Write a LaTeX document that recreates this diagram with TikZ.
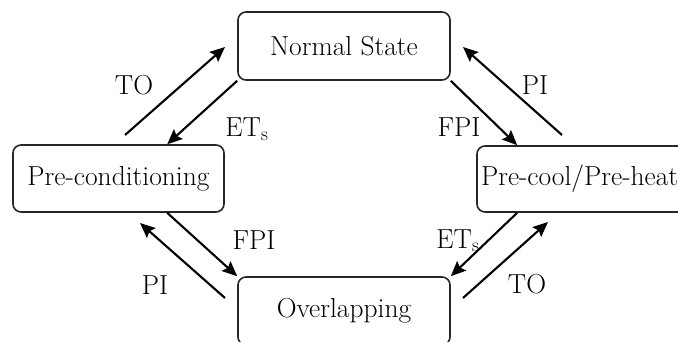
\documentclass[tikz,border=0pt]{standalone}
\usetikzlibrary{arrows.meta}
\begin{document}
\begin{tikzpicture}[x=1pt,y=-1pt,
  box/.style={draw=black!85, line width=1.6pt, rounded corners=8pt, inner sep=0pt,
    font=\fontsize{27.5}{31}\selectfont},
  conn/.style={line width=2.1pt, draw=black, -{Stealth[length=15pt,width=13pt,inset=2.5pt]}},
  lbl/.style={font=\fontsize{27.5}{31}\selectfont, anchor=base, inner sep=0pt}]
\clip (0,0) rectangle (678,342);
\useasboundingbox (0,0) rectangle (678,342);

% states
\node[box, minimum width=212pt, minimum height=68pt] (ns) at (344,46) {Normal State};
\node[box, minimum width=211pt, minimum height=67pt] (pc) at (118.5,178.5) {Pre-conditioning};
\node[box, minimum width=213pt, minimum height=66pt, text width=205pt, align=left] (pp) at (583.5,179) {Pre-cool/Pre-heat};
\node[box, minimum width=212pt, minimum height=68pt] (ov) at (344,311) {Overlapping};

% free ends
\coordinate (toAs) at (125,135);
\coordinate (toAe) at (225,47);
\coordinate (piAs) at (562,135);
\coordinate (piAe) at (463,47);
\coordinate (piBs) at (225,298);
\coordinate (piBe) at (140,223);
\coordinate (toBs) at (463,298);
\coordinate (toBe) at (548,222);

% transitions
\draw[conn] (toAs) -- (toAe);
\draw[conn] (ns.south west) -- ([xshift=155pt]pc.north west);
\draw[conn] (ns.south east) -- ([xshift=41pt]pp.north west);
\draw[conn] (piAs) -- (piAe);
\draw[conn] ([xshift=155pt]pc.south west) -- (ov.north west);
\draw[conn] (piBs) -- (piBe);
\draw[conn] ([xshift=41pt]pp.south west) -- (ov.north east);
\draw[conn] (toBs) -- (toBe);

% labels
\node[lbl] (lTOa) at (134,95) {TO};
\node[lbl] (lETa) at (247,137) {ET\textsubscript{s}};
\node[lbl] (lFPIa) at (459,137) {FPI};
\node[lbl] (lPIa) at (535,95) {PI};
\node[lbl] (lFPIb) at (254,250) {FPI};
\node[lbl] (lPIb) at (155,294) {PI};
\node[lbl] (lETb) at (458,248) {ET\textsubscript{s}};
\node[lbl] (lTOb) at (527,293) {TO};
\end{tikzpicture}
\end{document}
